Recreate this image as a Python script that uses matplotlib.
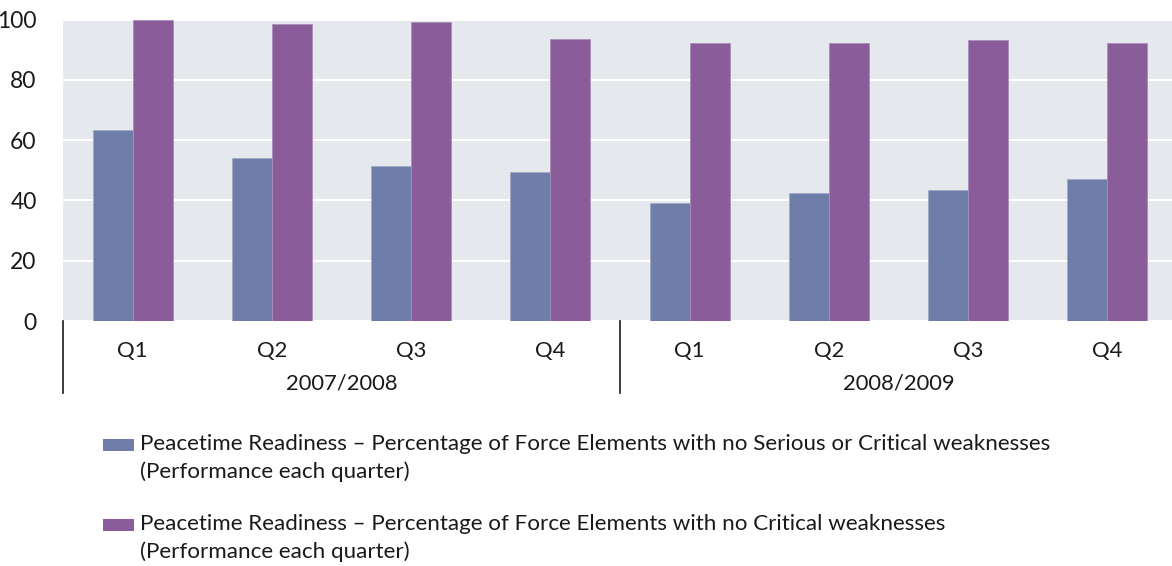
import matplotlib
matplotlib.use("Agg")
import matplotlib.pyplot as plt
from matplotlib.patches import Rectangle
import numpy as np

quarters = ["Q1", "Q2", "Q3", "Q4", "Q1", "Q2", "Q3", "Q4"]
years = ["2007/2008", "2008/2009"]
serious_or_critical = [63.5, 54, 51.3, 49.4, 39.1, 42.4, 43.3, 47.1]
critical = [100, 98.4, 99.2, 93.6, 92.2, 92.2, 93.1, 92.2]
labels = [
    "Peacetime Readiness \u2013 Percentage of Force Elements with no Serious or Critical weaknesses\n(Performance each quarter)",
    "Peacetime Readiness \u2013 Percentage of Force Elements with no Critical weaknesses\n(Performance each quarter)",
]
colors = ["#6f7ea8", "#8a5c9a"]

plt.rcParams['font.family'] = ['Lato', 'DejaVu Sans']
W, H = 1172, 566
fig = plt.figure(figsize=(W / 100, H / 100), dpi=100)
ax = fig.add_axes([63.1 / W, 1 - 321 / H, (1176.9 - 63.1) / W, 301.5 / H])
ax.set_facecolor("#e5e8ec")

x = np.arange(len(quarters))
bw = 0.287
ax.bar(x - bw / 2, serious_or_critical, bw, color=colors[0], edgecolor="#a3a9c8", linewidth=0.6, zorder=3)
ax.bar(x + bw / 2, critical, bw, color=colors[1], edgecolor="#a98fb8", linewidth=0.6, zorder=3)

ax.set_xlim(-0.5, len(quarters) - 0.5)
ax.set_ylim(0, 100)
ax.set_yticks([0, 20, 40, 60, 80, 100])
ax.tick_params(axis='y', length=0, pad=19, labelsize=16.5, labelcolor="#1a1a1a")
ax.set_xticks([])
ax.grid(axis='y', color="white", linewidth=1.5, zorder=1)
for s in ax.spines.values():
    s.set_visible(False)

trans = ax.get_xaxis_transform()
for i, q in enumerate(quarters):
    ax.text(i, -0.1, q, transform=trans, ha='center', va='center', fontsize=15.8, color="#1a1a1a")
for j, yr in enumerate(years):
    ax.text(j * 4 + 1.5, -0.207, yr, transform=trans, ha='center', va='center', fontsize=15.8, color="#1a1a1a")
for sx in [-0.5, 3.5]:
    ax.plot([sx, sx], [0, -0.24], transform=trans, color="#1a1a1a", linewidth=1.2, clip_on=False)

# legend
legend_base = [450, 530]
line_gap = 28
for k, (lab, c) in enumerate(zip(labels, colors)):
    yb = legend_base[k]
    fig.patches.append(Rectangle((103 / W, 1 - (yb + 1) / H), 31 / W, 12 / H, transform=fig.transFigure,
                                 facecolor=c, edgecolor='none'))
    for li, line in enumerate(lab.split("\n")):
        fig.text(140 / W, 1 - (yb + li * line_gap) / H, line, ha='left', va='baseline', fontsize=16.1,
                 color="#1a1a1a")

fig.savefig("out.png", dpi=100)
